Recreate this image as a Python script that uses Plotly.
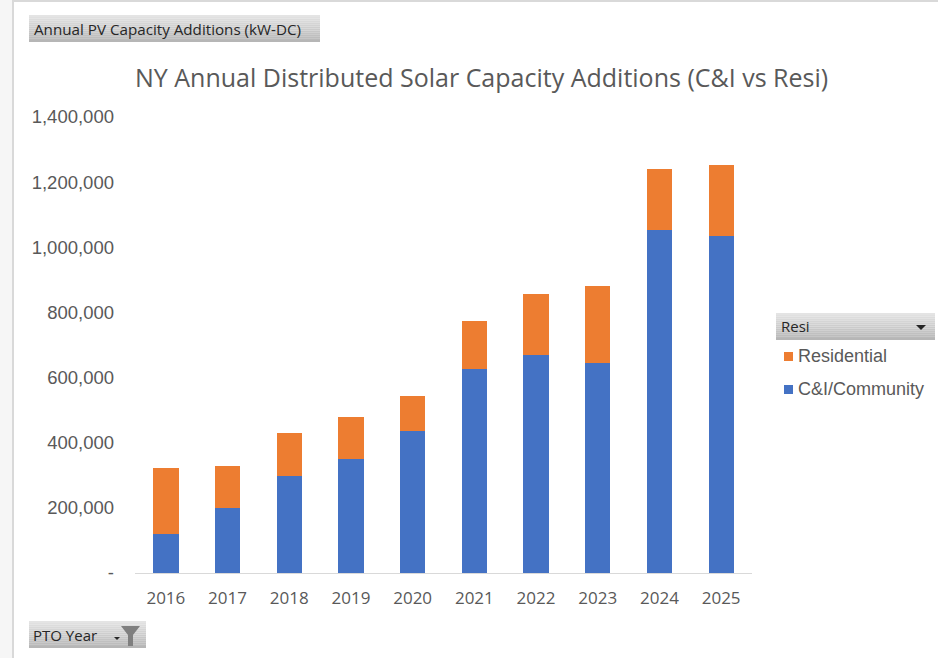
import plotly.graph_objects as go

years = ["2016", "2017", "2018", "2019", "2020", "2021", "2022", "2023", "2024", "2025"]
ci_community = [120000, 200000, 298000, 350000, 436000, 626000, 669000, 645000, 1053000, 1035000]
residential = [202000, 128000, 132000, 129000, 107000, 148000, 188000, 236000, 187000, 218000]
y_ticks = [0, 200000, 400000, 600000, 800000, 1000000, 1200000, 1400000]
y_labels = ["-", "200,000", "400,000", "600,000", "800,000", "1,000,000", "1,200,000", "1,400,000"]

BLUE = "#4472c4"
ORANGE = "#ed7d31"
GREY_TEXT = "#595959"
W, H = 938, 658
L, R, T, B = 135, 752, 117, 573


def px(x):
    return (x - L) / (R - L)


def py(y):
    return (B - y) / (B - T)


def field_button(x0, y0, x1, y1):
    # pivot field buttons have a vertical grey gradient
    steps = 14
    out = []
    for i in range(steps):
        g = int(228 - (228 - 182) * i / (steps - 1))
        out.append(dict(
            type="rect", xref="paper", yref="paper", layer="below",
            x0=px(x0), x1=px(x1),
            y0=py(y0 + (y1 - y0) * i / steps), y1=py(y0 + (y1 - y0) * (i + 1) / steps),
            line_width=0, fillcolor=f"rgb({g},{g},{g})",
        ))
    return out


def poly(points, color):
    path = "M " + " L ".join(f"{px(a):.5f},{py(b):.5f}" for a, b in points) + " Z"
    return dict(type="path", xref="paper", yref="paper", path=path, line_width=0, fillcolor=color)


def label(text, x, y, size, family, color, anchor="left"):
    return dict(
        text=text, x=px(x), y=py(y), xref="paper", yref="paper", showarrow=False,
        xanchor=anchor, yanchor="middle", font=dict(size=size, family=family, color=color),
    )


fig = go.Figure()
fig.add_trace(go.Bar(x=years, y=ci_community, name="C&I/Community", marker_color=BLUE,
                     marker_line_width=0, width=0.41))
fig.add_trace(go.Bar(x=years, y=residential, name="Residential", marker_color=ORANGE,
                     marker_line_width=0, width=0.41))

shapes = []
# window edge of the screenshot
shapes.append(dict(type="rect", xref="paper", yref="paper", layer="below",
                   x0=px(0), x1=px(12), y0=py(0), y1=py(H), line_width=0, fillcolor="#f6f6f6"))
shapes.append(dict(type="rect", xref="paper", yref="paper", layer="below",
                   x0=px(12), x1=px(14), y0=py(0), y1=py(H), line_width=0, fillcolor="#d9d9d9"))
shapes.append(dict(type="rect", xref="paper", yref="paper", layer="below",
                   x0=px(12), x1=px(W), y0=py(0), y1=py(2), line_width=0, fillcolor="#d9d9d9"))
shapes += field_button(29, 15, 320, 42)
shapes += field_button(776, 313, 935, 340)
shapes += field_button(29, 621, 146, 648)
# legend swatches
shapes.append(dict(type="rect", xref="paper", yref="paper", x0=px(784), x1=px(793), y0=py(352), y1=py(361),
                   line_width=0, fillcolor=ORANGE))
shapes.append(dict(type="rect", xref="paper", yref="paper", x0=px(784), x1=px(793), y0=py(385), y1=py(394),
                   line_width=0, fillcolor=BLUE))
# dropdown arrows and filter funnel
shapes.append(poly([(916, 325), (926, 325), (921, 330)], "#262626"))
shapes.append(poly([(114, 637), (120, 637), (117, 640)], "#262626"))
shapes.append(poly([(121, 626), (140, 626), (133, 635), (133, 646), (128, 646), (128, 635)], "#7f7f7f"))

fig.update_layout(
    width=W,
    height=H,
    barmode="stack",
    showlegend=False,
    paper_bgcolor="white",
    plot_bgcolor="white",
    margin=dict(l=L, r=W - R, t=T, b=H - B, pad=0),
    bargap=0.59,
    shapes=shapes,
    annotations=[
        label("NY Annual Distributed Solar Capacity Additions (C&I vs Resi)", 481, 77, 25, "Open Sans", GREY_TEXT, "center"),
        label("Annual PV Capacity Additions (kW-DC)", 32, 29, 15.2, "Open Sans", "#262626"),
        label("Resi", 779, 326, 15, "Open Sans", "#262626"),
        label("PTO Year", 31, 635, 15, "Open Sans", "#262626"),
        label("Residential", 796, 356, 18, "Liberation Sans", GREY_TEXT),
        label("C&I/Community", 796, 389, 18, "Liberation Sans", GREY_TEXT),
    ],
    xaxis=dict(
        type="category",
        showline=True,
        linecolor="#d9d9d9",
        linewidth=1,
        ticks="",
        ticklabelstandoff=10,
        tickfont=dict(size=17, family="Open Sans", color=GREY_TEXT),
    ),
    yaxis=dict(
        range=[0, 1400000],
        tickvals=y_ticks,
        ticktext=y_labels,
        showgrid=False,
        zeroline=False,
        ticks="",
        ticklabelstandoff=20,
        tickfont=dict(size=18.5, family="Liberation Sans", color=GREY_TEXT),
    ),
)

fig.write_html(
    "out.html",
    config={"displayModeBar": False},
    post_script="document.body.style.margin='0';document.body.style.overflow='hidden';",
)
